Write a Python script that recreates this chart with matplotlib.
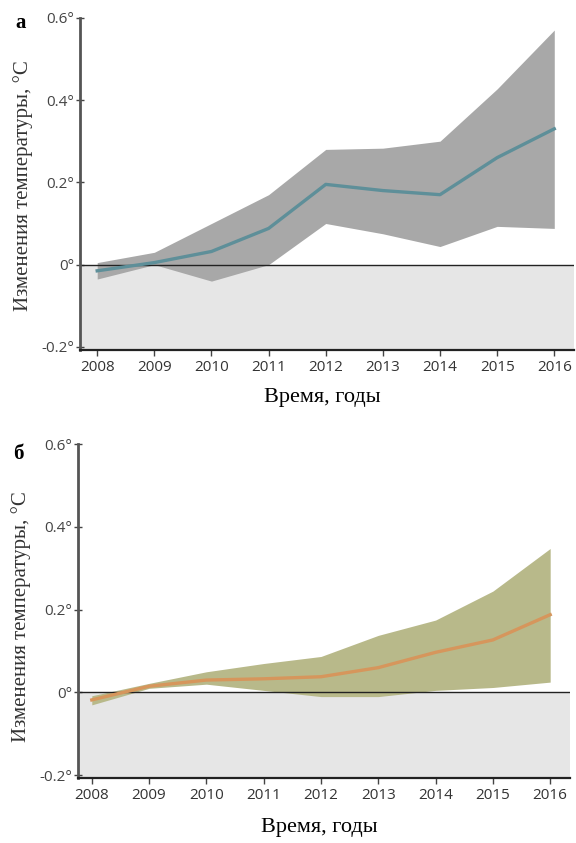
import numpy as np
import matplotlib.pyplot as plt

years = [2008, 2009, 2010, 2011, 2012, 2013, 2014, 2015, 2016]

# panel а: mean anomaly with its spread
mean_a = [-0.015, 0.005, 0.032, 0.088, 0.195, 0.180, 0.170, 0.260, 0.330]
upper_a = [0.005, 0.030, 0.100, 0.170, 0.280, 0.283, 0.300, 0.427, 0.570]
lower_a = [-0.035, 0.000, -0.040, 0.000, 0.100, 0.075, 0.044, 0.093, 0.088]

# panel б
mean_b = [-0.018, 0.015, 0.030, 0.033, 0.038, 0.060, 0.097, 0.127, 0.188]
upper_b = [-0.008, 0.022, 0.050, 0.070, 0.087, 0.138, 0.175, 0.245, 0.348]
lower_b = [-0.030, 0.010, 0.020, 0.005, -0.010, -0.010, 0.005, 0.012, 0.025]

ytick_vals = [-0.2, 0, 0.2, 0.4, 0.6]
ytick_labels = ["-0.2°", "0°", "0.2°", "0.4°", "0.6°"]

# letter, series, colours, axes rect, left x limit, letter y, ylabel y, xlabel y
panels = [
    ("а", mean_a, upper_a, lower_a, "#a8a8a8", "#5e8f99", [0.139, 0.585, 0.858, 0.394], 2007.70, 0.985, 0.495, -0.115),
    ("б", mean_b, upper_b, lower_b, "#b8b98a", "#d6965c", [0.135, 0.077, 0.855, 0.396], 2007.755, 0.97, 0.485, -0.12),
]

fig = plt.figure(figsize=(5.76, 8.43), dpi=100)
serif = ["Liberation Serif", "DejaVu Serif"]
sans = ["Open Sans", "DejaVu Sans"]

for letter, m, up, lo, band_col, line_col, rect, x0, let_y, yl_y, xl_y in panels:
    ax = fig.add_axes(rect)
    ax.set_xlim(x0, 2016.35)
    ax.set_ylim(-0.207, 0.6)
    ax.axhspan(-0.207, 0, color="#e6e6e6", zorder=0, lw=0)
    ax.fill_between(years, lo, up, color=band_col, lw=0, zorder=1)
    ax.axhline(0, color="#222222", lw=1.0, zorder=2)
    ax.plot(years, m, color=line_col, lw=2.4, zorder=3)

    ax.spines["top"].set_visible(False)
    ax.spines["right"].set_visible(False)
    ax.spines["left"].set_linewidth(2.0)
    ax.spines["left"].set_color("#555555")
    ax.spines["bottom"].set_linewidth(1.6)
    ax.spines["bottom"].set_color("#222222")

    ax.set_xticks(years)
    ax.set_xticklabels([str(y) for y in years], family=sans, fontsize=11, color="#333333")
    ax.set_yticks(ytick_vals)
    ax.set_yticklabels(ytick_labels, family=sans, fontsize=11, color="#444444")
    ax.tick_params(axis="both", length=4, width=1, color="#444444", pad=3)
    ax.tick_params(axis="y", direction="inout", length=6, pad=1)

    ax.set_xlabel("Время, годы", family=serif, fontsize=16)
    ax.xaxis.set_label_coords(0.49, xl_y)
    ax.set_ylabel("Изменения температуры, °C", family=serif, fontsize=15, color="#333333")
    ax.yaxis.set_label_coords(-0.095, yl_y)
    ax.text(-0.12, let_y, letter, transform=ax.transAxes, family=serif, fontsize=15,
            fontweight="bold", ha="center", va="center")

fig.savefig("out.png", dpi=100)
